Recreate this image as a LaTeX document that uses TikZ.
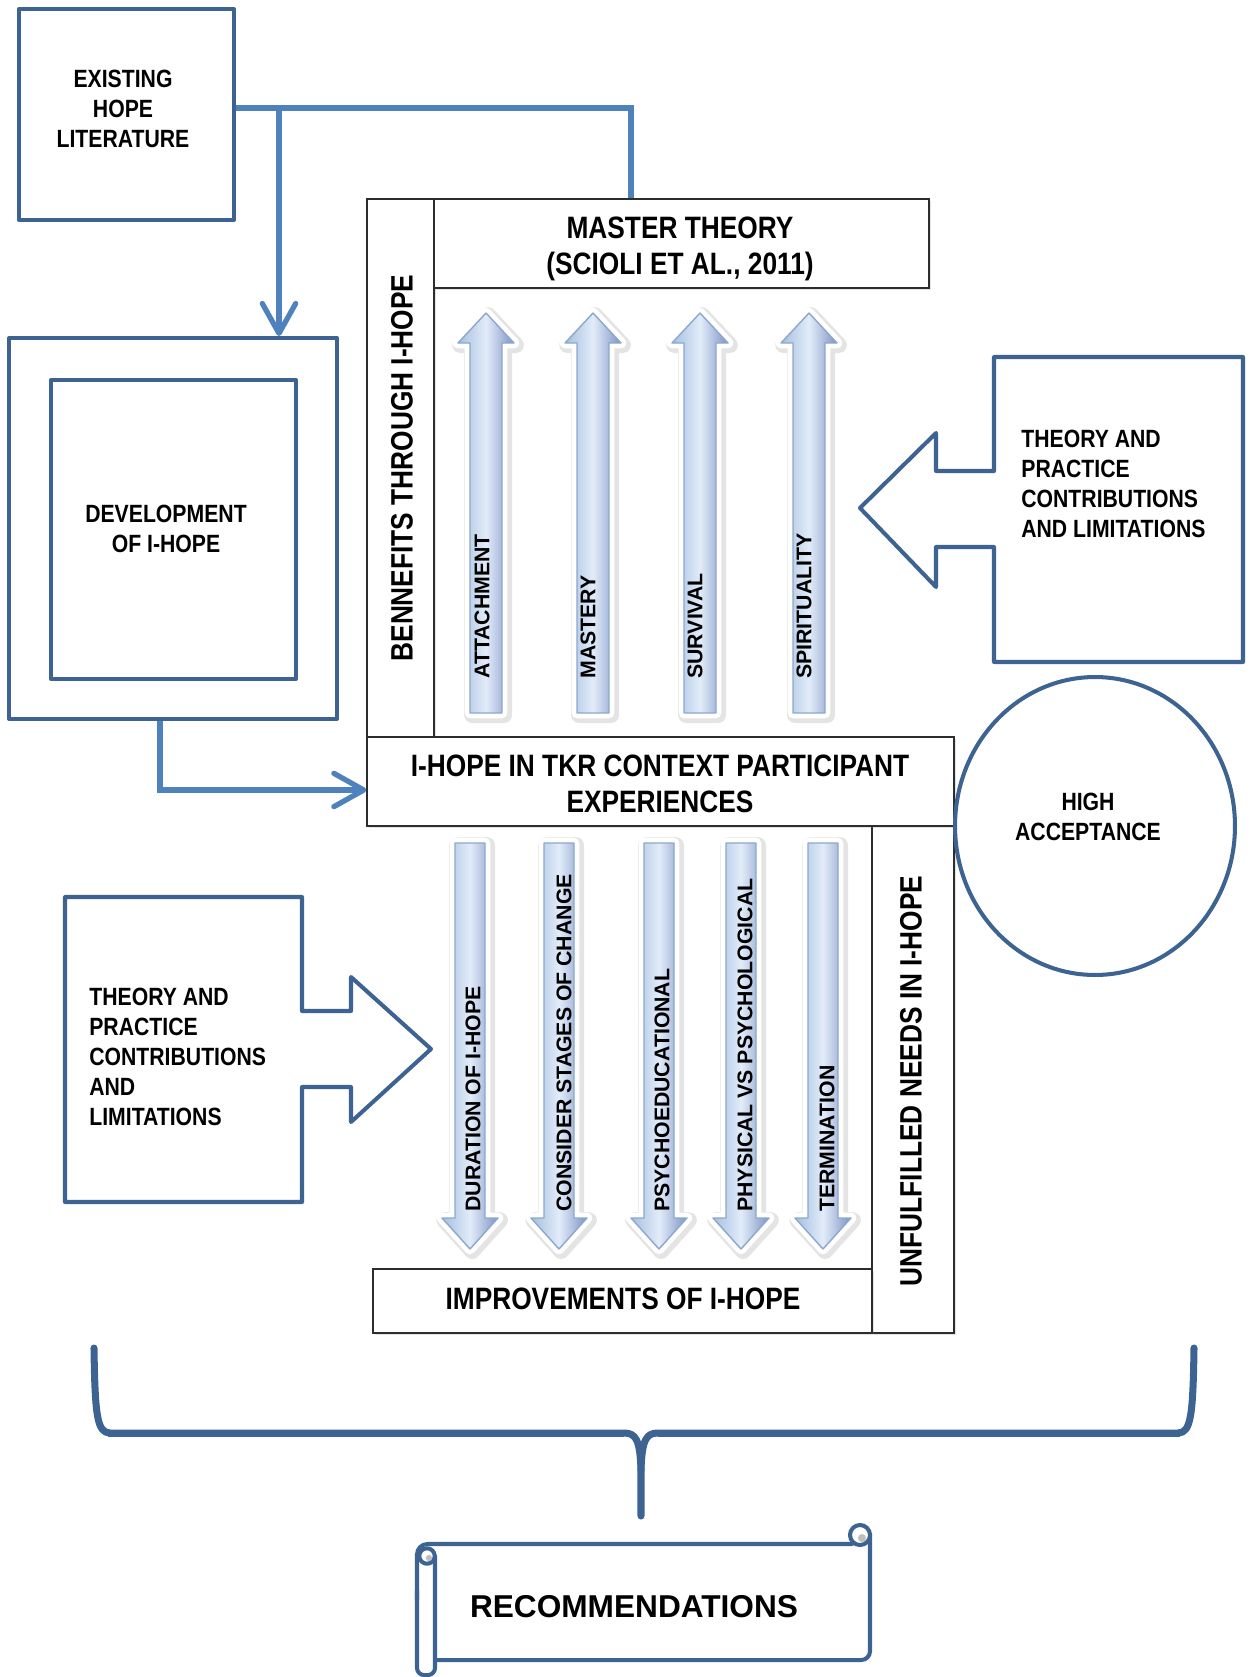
\documentclass[tikz,border=0pt]{standalone}
\usepackage{fontspec}
\setmainfont{Liberation Sans}
\newfontfamily\narrowsans[FakeStretch=0.85]{Liberation Sans}
\usetikzlibrary{arrows.meta,shapes.geometric,shadows}

\definecolor{boxblue}{RGB}{60,99,146}
\definecolor{linkblue}{RGB}{79,129,189}
\definecolor{panelgray}{RGB}{45,45,45}
\definecolor{arrowedge}{RGB}{140,168,205}
\definecolor{arrowlight}{RGB}{226,236,249}
\definecolor{arrowdark}{RGB}{165,191,224}

% outlines of the shaded block arrows (centre x as argument)
\newcommand{\uparrowpath}[1]{(#1-16,713) -- (#1-16,343) -- (#1-28,343) -- (#1,313) -- (#1+28,343) -- (#1+16,343) -- (#1+16,713) -- cycle}
\newcommand{\downarrowpath}[1]{(#1-15,843) -- (#1+15,843) -- (#1+15,1218) -- (#1+28,1218) -- (#1,1249) -- (#1-28,1218) -- (#1-15,1218) -- cycle}
\newcommand{\drawuparrow}[1]{%
  \draw[halo] \uparrowpath{#1};
  \draw[rim] \uparrowpath{#1};
  \draw[body] \uparrowpath{#1};}
\newcommand{\drawdownarrow}[1]{%
  \draw[halo] \downarrowpath{#1};
  \draw[rim] \downarrowpath{#1};
  \draw[body] \downarrowpath{#1};}

\begin{document}
\begin{tikzpicture}[x=0.02cm, y=-0.02cm,
  bluebox/.style={draw=boxblue, line width=2.3pt, line join=round},
  link/.style={draw=linkblue, line width=3pt},
  tipped/.style={-{Straight Barb[length=17pt, width=19pt, round]}},
  panel/.style={draw=panelgray, line width=0.8pt, fill=white,
    drop shadow={shadow xshift=1.2pt, shadow yshift=-1.2pt, opacity=0.22}},
  bigtxt/.style={font=\narrowsans\bfseries\fontsize{17.6}{20.4}\selectfont, align=center, inner sep=0pt},
  smalltxt/.style={font=\narrowsans\bfseries\fontsize{14.2}{17}\selectfont, inner sep=0pt},
  arrowtxt/.style={font=\bfseries\fontsize{12.1}{14}\selectfont, inner sep=0pt, rotate=90, anchor=west},
  halo/.style={draw=black!30, opacity=0.35, line width=9pt, line join=round, xshift=1.2pt, yshift=-1.2pt},
  rim/.style={draw=white, fill=white, line width=6pt, line join=round},
  body/.style={draw=arrowedge, line width=0.8pt, line join=round,
    left color=arrowdark, right color=arrowdark!85!black!90!blue, middle color=arrowlight},
  brace/.style={draw=boxblue, line width=4pt, line cap=round, line join=round},
  scroll/.style={draw=boxblue, line width=2.3pt, line join=round, line cap=round}]

\useasboundingbox (0,0) rectangle (1251,1677);

% ---------- left column of boxes ----------
\node[bluebox, minimum width=4.3cm, minimum height=4.22cm] (lit) at (126.5,114.5) {};
\node[smalltxt, align=center] (littxt) at (123,109) {EXISTING\\HOPE\\LITERATURE};
\node[bluebox, minimum width=6.56cm, minimum height=7.62cm] (dev) at (173,528.5) {};
\node[bluebox, minimum width=4.9cm, minimum height=5.98cm] (devin) at (173.5,529.5) {};
\node[smalltxt, align=center] (devtxt) at (166,529) {DEVELOPMENT\\OF I-HOPE};

% ---------- central panel ----------
\node[panel, minimum width=1.34cm, minimum height=10.76cm] (bencol) at (400.5,468) {};
\node[bigtxt, rotate=90] (bentxt) at (402,468) {BENNEFITS THROUGH I-HOPE};
\node[panel, minimum width=9.9cm, minimum height=1.78cm] (master) at (681.5,243.5) {};
\node[bigtxt] (mastertxt) at (680,249) {MASTER THEORY\\(SCIOLI ET AL., 2011)};
\node[panel, minimum width=1.64cm, minimum height=10.14cm] (unfcol) at (913,1079.5) {};
\node[bigtxt, rotate=90] (unftxt) at (911,1081) {UNFULFILLED NEEDS IN I-HOPE};
\node[panel, minimum width=9.98cm, minimum height=1.28cm] (impr) at (622.5,1301) {};
\node[bigtxt] (imprtxt) at (623,1299) {IMPROVEMENTS OF I-HOPE};
\node[panel, minimum width=11.74cm, minimum height=1.78cm] (hope) at (660.5,781.5) {};
\node[bigtxt] (hopetxt) at (660,784) {I-HOPE IN TKR CONTEXT PARTICIPANT\\EXPERIENCES};

% upward arrows
\drawuparrow{486}
\drawuparrow{593}
\drawuparrow{700}
\drawuparrow{809}
\node[arrowtxt] (att) at (482,679) {ATTACHMENT};
\node[arrowtxt] (mas) at (588,679) {MASTERY};
\node[arrowtxt] (sur) at (695,679) {SURVIVAL};
\node[arrowtxt] (spi) at (804,679) {SPIRITUALITY};

% downward arrows
\drawdownarrow{470}
\drawdownarrow{559}
\drawdownarrow{659}
\drawdownarrow{741}
\drawdownarrow{823}
\node[arrowtxt] (dur) at (473,1212) {DURATION OF I-HOPE};
\node[arrowtxt] (con) at (564,1212) {CONSIDER STAGES OF CHANGE};
\node[arrowtxt] (psy) at (662,1212) {PSYCHOEDUCATIONAL};
\node[arrowtxt] (phy) at (745,1212) {PHYSICAL VS PSYCHOLOGICAL};
\node[arrowtxt] (ter) at (827,1212) {TERMINATION};

% ---------- connectors ----------
\coordinate (split) at (279,108);
\coordinate (bend) at (631,108);
\draw[link] (lit.east |- bend) -- (bend) -- (bend |- master.north);
\draw[link, tipped] (split) -- (split |- dev.north);
\coordinate (elbow) at (160,790);
\draw[link, tipped] (elbow |- dev.south) -- (elbow) -- (elbow -| hope.west);

% ---------- side arrow boxes ----------
\draw[bluebox] (994,357) -- (1243,357) -- (1243,662) -- (994,662) -- (994,547) -- (936,547)
  -- (936,587) -- (860,508) -- (936,433) -- (936,471) -- (994,471) -- cycle;
\node[smalltxt, align=left, anchor=west] (thr) at (1021,484)
  {THEORY AND\\PRACTICE\\CONTRIBUTIONS\\AND LIMITATIONS};
\draw[bluebox] (65,897) -- (302,897) -- (302,1011) -- (351,1011) -- (351,977) -- (431,1049)
  -- (351,1122) -- (351,1087) -- (302,1087) -- (302,1202) -- (65,1202) -- cycle;
\node[smalltxt, align=left, anchor=west] (thl) at (89,1057)
  {THEORY AND\\PRACTICE\\CONTRIBUTIONS\\AND\\LIMITATIONS};

% ---------- circle ----------
\node[bluebox, ellipse, minimum width=5.6cm, minimum height=5.96cm, inner sep=0pt] (acc) at (1095,826) {};
\node[smalltxt, align=center] (acctxt) at (1088,817) {HIGH\\ACCEPTANCE};

% ---------- brace ----------
\draw[brace] (94,1348) .. controls (95,1415) and (97,1433) .. (110,1433) -- (624,1433)
  .. controls (636,1433) and (640,1440) .. (641,1470) -- (641,1516);
\draw[brace] (1194,1348) .. controls (1193,1415) and (1191,1433) .. (1178,1433) -- (658,1433)
  .. controls (646,1433) and (642,1440) .. (641,1470);
\draw[boxblue, line width=2pt] (108,1435.5) -- (624,1435.5) (658,1435.5) -- (1180,1435.5);

% ---------- scroll ----------
\draw[scroll, rounded corners=6pt] (417,1600) -- (417,1544) -- (852,1544);
\draw[scroll, rounded corners=5pt] (870,1534) -- (870,1660) -- (437,1660);
\draw[scroll, rounded corners=4pt] (435,1556) -- (435,1675) -- (417,1675) -- (417,1590);
\fill[white] (860,1535) circle[radius=5.7pt];
\draw[scroll] (860,1535) circle[radius=5.7pt];
\fill[black!25] (862,1538) circle[radius=2.3pt];
\fill[white] (427,1556) circle[radius=4.4pt];
\draw[scroll] (427,1556) circle[radius=4.4pt];
\fill[black!25] (429,1558) circle[radius=1.8pt];
\node[font=\bfseries\fontsize{18}{21}\selectfont, inner sep=0pt] (rec) at (634,1607) {RECOMMENDATIONS};

\end{tikzpicture}
\end{document}
